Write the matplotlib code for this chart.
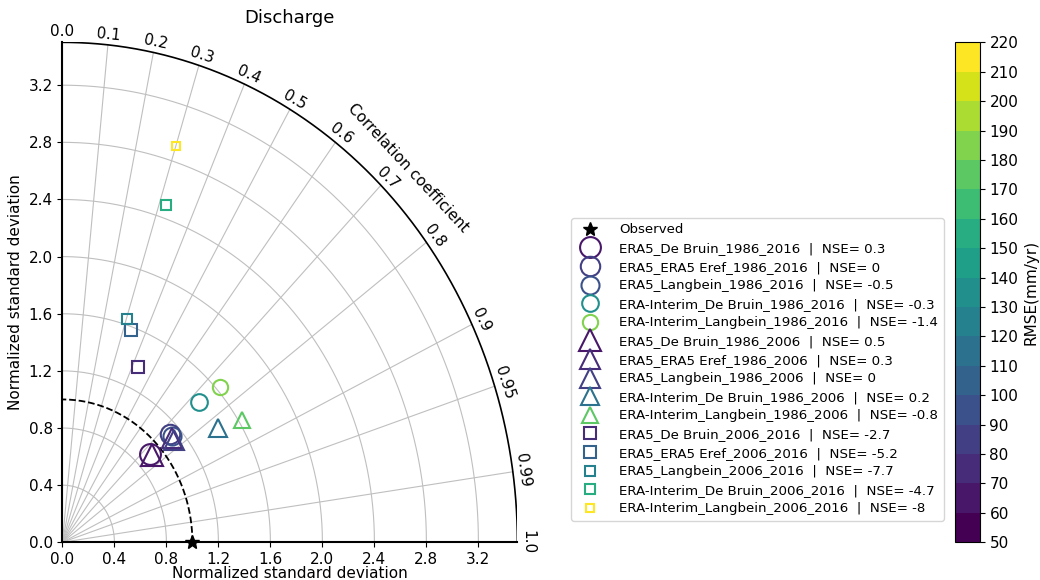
import numpy as np
import matplotlib.pyplot as plt
import matplotlib as mpl

names = ["ERA5_De Bruin_1986_2016", "ERA5_ERA5 Eref_1986_2016", "ERA5_Langbein_1986_2016",
         "ERA-Interim_De Bruin_1986_2016", "ERA-Interim_Langbein_1986_2016",
         "ERA5_De Bruin_1986_2006", "ERA5_ERA5 Eref_1986_2006", "ERA5_Langbein_1986_2006",
         "ERA-Interim_De Bruin_1986_2006", "ERA-Interim_Langbein_1986_2006",
         "ERA5_De Bruin_2006_2016", "ERA5_ERA5 Eref_2006_2016", "ERA5_Langbein_2006_2016",
         "ERA-Interim_De Bruin_2006_2016", "ERA-Interim_Langbein_2006_2016"]
nse = ["0.3", "0", "-0.5", "-0.3", "-1.4", "0.5", "0.3", "0", "0.2", "-0.8",
       "-2.7", "-5.2", "-7.7", "-4.7", "-8"]
std = [0.913, 1.125, 1.12, 1.436, 1.629, 0.92, 1.113, 1.12, 1.442, 1.626,
       1.36, 1.58, 1.64, 2.49, 2.91]
corr = [0.734, 0.738, 0.75, 0.731, 0.743, 0.75, 0.755, 0.768, 0.832, 0.849,
        0.426, 0.335, 0.305, 0.321, 0.299]
rmse = [65, 80, 95, 135, 185, 62, 75, 88, 110, 170, 70, 105, 125, 150, 215]
markers = ["o"] * 5 + ["^"] * 5 + ["s"] * 5
sizes = [15, 14, 13, 12, 11, 16, 15, 14, 13, 12, 9, 8, 7.5, 6.5, 5.5]

corr_ticks = [0.0, 0.1, 0.2, 0.3, 0.4, 0.5, 0.6, 0.7, 0.8, 0.9, 0.95, 0.99, 1.0]
std_ticks = np.arange(0, 3.3, 0.4)
rmax = 3.5

fig = plt.figure(figsize=(10.4, 5.8), dpi=100)
ax = fig.add_axes([0.06, 0.065, 0.4375, 0.862])
cmap = plt.get_cmap("viridis")
bounds = np.arange(50, 221, 10)
norm = mpl.colors.BoundaryNorm(bounds, cmap.N)

th = np.linspace(0, np.pi / 2, 300)
for r in std_ticks[1:]:
    ax.plot(r * np.cos(th), r * np.sin(th), color="0.75", lw=0.8, zorder=1)
ax.plot(rmax * np.cos(th), rmax * np.sin(th), color="k", lw=1.2, zorder=2)
ax.plot(np.cos(th), np.sin(th), "k--", lw=1.3, zorder=2)
for c in corr_ticks:
    a = np.arccos(c)
    ax.plot([0, rmax * np.cos(a)], [0, rmax * np.sin(a)], color="0.75", lw=0.8, zorder=1)
    ax.text(3.52 * np.cos(a), 3.52 * np.sin(a), f"{c:g}" if c not in (0.0, 1.0) else f"{c:.1f}",
            rotation=np.degrees(a) - 90, ha="center", va="bottom", fontsize=11,
            rotation_mode="anchor")
ax.text(2.66, 2.62, "Correlation coefficient", rotation=-47, ha="center", va="center",
        fontsize=11, rotation_mode="anchor")

handles = [ax.plot(1.0, 0.0, "k*", ms=10, clip_on=False, zorder=5, label="Observed")[0]]
for i in range(len(names)):
    x = std[i] * corr[i]
    y = std[i] * np.sqrt(1 - corr[i] ** 2)
    h, = ax.plot(x, y, markers[i], ms=sizes[i], mfc="none", mec=cmap(norm(rmse[i])),
                 mew=1.5, zorder=4, label=f"{names[i]}  |  NSE= {nse[i]}")
    handles.append(h)

ax.set_xlim(0, rmax)
ax.set_ylim(0, rmax)
ax.set_xticks(std_ticks)
ax.set_yticks(std_ticks)
ax.set_xticklabels([f"{v:.1f}" for v in std_ticks], fontsize=11)
ax.set_yticklabels([f"{v:.1f}" for v in std_ticks], fontsize=11)
ax.spines["top"].set_visible(False)
ax.spines["right"].set_visible(False)
ax.spines["left"].set_linewidth(1.5)
ax.spines["bottom"].set_linewidth(1.5)
ax.set_xlabel("Normalized standard deviation", fontsize=11, labelpad=-1)
ax.set_ylabel("Normalized standard deviation", fontsize=11)
ax.set_title("Discharge", fontsize=13, pad=14)

fig.legend(handles=handles, loc="center left", bbox_to_anchor=(0.543, 0.363),
           fontsize=9.6, handletextpad=1.2, labelspacing=0.42, borderpad=0.4)

cax = fig.add_axes([0.918, 0.065, 0.024, 0.862])
cb = fig.colorbar(mpl.cm.ScalarMappable(norm=norm, cmap=cmap), cax=cax, ticks=bounds)
cb.ax.tick_params(labelsize=11)
cb.set_label("RMSE(mm/yr)", fontsize=11)

fig.savefig("out.png", dpi=100)
